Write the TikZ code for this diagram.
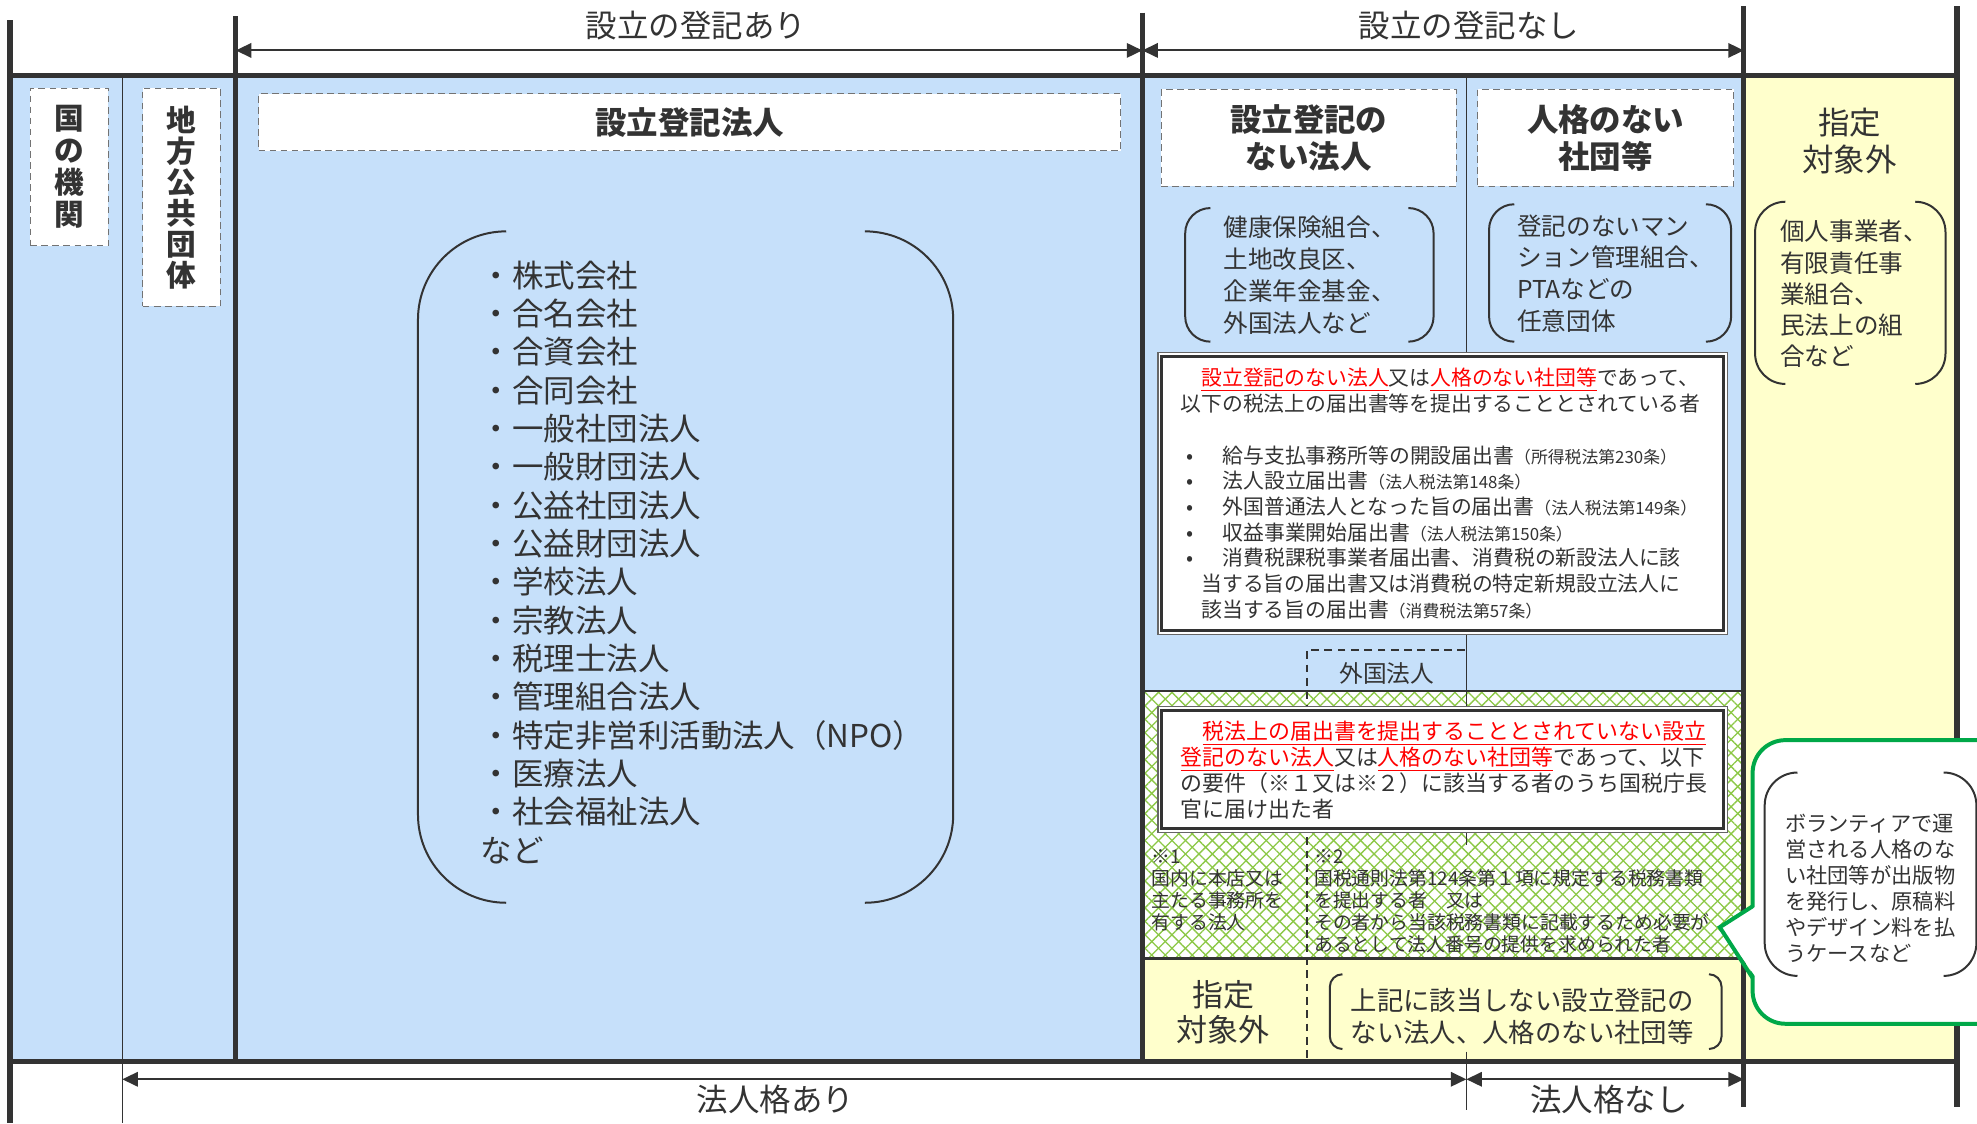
\documentclass[tikz,border=0pt]{standalone}
\usepackage{fontspec}
\setmainfont{Noto Sans CJK JP}
\usetikzlibrary{
    arrows.meta,
    patterns.meta
}
\definecolor{ink}{RGB}{51,51,51}
\definecolor{skyfill}{RGB}{198,224,250}
\definecolor{creamfill}{RGB}{255,255,204}
\definecolor{hatchgreen}{RGB}{140,200,70}
\definecolor{calloutgreen}{RGB}{0,168,72}
\definecolor{notered}{RGB}{255,0,0}
\newcommand{\fsz}[2]{\fontsize{#1}{#2}\selectfont}
\newcommand{\redul}[1]{\textcolor{notered}{\underline{#1}}}
\newcommand{\lawref}[1]{{\fsz{7.6pt}{8pt}#1}}
\newcommand{\bul}{\makebox[8.6pt][c]{•}\hspace*{10.4pt}}
\newcommand{\parens}[5]{%
    \draw[parenline, rounded corners=#5*0.02cm] ({#1+#5},#2) -- (#1,#2) -- (#1,#4) -- ({#1+#5},#4);
    \draw[parenline, rounded corners=#5*0.02cm] ({#3-#5},#2) -- (#3,#2) -- (#3,#4) -- ({#3-#5},#4);}

\begin{document}
\begin{tikzpicture}[x=0.02cm, y=-0.02cm,
    framerule/.style={draw=ink, line width=2.4pt},
    divider/.style={draw=ink, line width=0.6pt},
    spanarrow/.style={draw=ink, line width=0.9pt, {Triangle[length=7pt,width=6.5pt]}-{Triangle[length=7pt,width=6.5pt]}},
    namebox/.style={draw=black!55, densely dashed, line width=0.4pt, fill=white, text=ink, inner sep=0pt},
    reqbox/.style={draw=black!60, line width=0.5pt, fill=white, inner sep=0pt},
    parenline/.style={draw=ink, line width=0.9pt},
    dashline/.style={draw=ink, line width=0.7pt, dash pattern=on 3.5pt off 2.5pt},
    txt/.style={text=ink, inner sep=0pt, align=left},
    calloutbox/.style={draw=calloutgreen, line width=1.8pt, fill=white, rounded corners=0.52cm, inner sep=0pt}]

    \useasboundingbox (0,0) rectangle (1568,891);
    \clip (0,0) rectangle (1568,891);

    \fill[skyfill] (8,60) rectangle (906,842);
    \fill[skyfill] (906,60) rectangle (1383,548);
    \fill[white] (906,548) rectangle (1383,760);
    \fill[pattern={Lines[angle=45,distance=4.3pt,line width=0.6pt]}, pattern color=hatchgreen] (906,548) rectangle (1383,760);
    \fill[pattern={Lines[angle=-45,distance=4.3pt,line width=0.6pt]}, pattern color=hatchgreen] (906,548) rectangle (1383,760);
    \fill[creamfill] (906,760) rectangle (1383,842);
    \fill[creamfill] (1383,60) rectangle (1552,842);

    \draw[divider] (97,60) -- (97,891);
    \draw[divider, line width=0.8pt] (906,548) -- (1383,548);
    \draw[divider, line width=1.4pt] (906,760) -- (1383,760);
    \draw[divider] (1163,60) -- (1163,280);
    \draw[divider] (1163,502) -- (1163,563);
    \draw[divider] (1163,660) -- (1163,670);
    \draw[divider] (1163,834) -- (1163,880);
    \draw[framerule] (8,16) -- (8,891);
    \draw[framerule] (187,13) -- (187,842);
    \draw[framerule] (906,10) -- (906,842);
    \draw[framerule] (1383,5) -- (1383,878);
    \draw[framerule] (1552,5) -- (1552,878);
    \draw[framerule] (8,60) -- (1552,60);
    \draw[framerule] (8,842) -- (1552,842);

    \coordinate (regL) at (187,40);
    \coordinate (regM) at (906,40);
    \coordinate (regR) at (1383,40);
    \coordinate (corpL) at (97,856);
    \coordinate (corpM) at (1163,856);
    \coordinate (corpR) at (1383,856);
    \draw[spanarrow] (regL) -- (regM);
    \draw[spanarrow] (regM) -- (regR);
    \draw[spanarrow] (corpL) -- (corpM);
    \draw[spanarrow] (corpM) -- (corpR);

    \node[txt, font=\fsz{14.2pt}{17pt}] (regyes) at (552,20) {設立の登記あり};
    \node[txt, font=\fsz{14.2pt}{17pt}] (regno) at (1165,20) {設立の登記なし};
    \node[txt, font=\fsz{14.2pt}{17pt}] (corpyes) at (615,872) {法人格あり};
    \node[txt, font=\fsz{14.2pt}{17pt}] (corpno) at (1276,872) {法人格なし};

    \node[namebox, minimum width=1.24cm, minimum height=2.5cm, align=center, font=\bfseries\fsz{13.4pt}{14.5pt}] (state) at (55,132.5) {国\\の\\機\\関};
    \node[namebox, minimum width=1.23cm, minimum height=3.46cm, align=center, font=\bfseries\fsz{13.4pt}{14pt}] (local) at (144,156.5) {地\\方\\公\\共\\団\\体};
    \node[namebox, minimum width=13.68cm, minimum height=0.9cm, font=\bfseries\fsz{14.2pt}{17pt}] (reghead) at (547,97) {設立登記法人};
    \node[namebox, minimum width=4.68cm, minimum height=1.54cm, align=center, font=\bfseries\fsz{14.2pt}{17pt}] (unreghead) at (1038,109.4) {設立登記の\\ない法人};
    \node[namebox, minimum width=4.06cm, minimum height=1.54cm, align=center, font=\bfseries\fsz{14.2pt}{17pt}] (assochead) at (1273.5,109.4) {人格のない\\社団等};
    \node[txt, align=center, font=\fsz{14.2pt}{17pt}] (outtop) at (1467,112) {指定\\対象外};

    \parens{331.5}{183.5}{756}{716}{70}
    \node[txt, anchor=west, font=\fsz{14.2pt}{17.3pt}] (corplist) at (381,446) {・株式会社\\・合名会社\\・合資会社\\・合同会社\\・一般社団法人\\・一般財団法人\\・公益社団法人\\・公益財団法人\\・学校法人\\・宗教法人\\・税理士法人\\・管理組合法人\\・特定非営利活動法人（NPO）\\・医療法人\\・社会福祉法人\\など};

    \parens{940}{165}{1137}{271}{20}
    \node[txt, anchor=west, font=\fsz{11.1pt}{14.4pt}] (unreglist) at (970,218) {健康保険組合、\\土地改良区、\\企業年金基金、\\外国法人など};
    \parens{1181}{162}{1373}{271}{20}
    \node[txt, anchor=west, font=\fsz{11.1pt}{14.4pt}] (assoclist) at (1203,217) {登記のないマン\\ション管理組合、\\PTAなどの\\任意団体};
    \parens{1392}{160}{1543}{304.5}{24}
    \node[txt, anchor=west, font=\fsz{11.1pt}{14.1pt}] (outlist) at (1411.6,233.2) {個人事業者、\\有限責任事\\業組合、\\民法上の組\\合など};

    \coordinate (frgA) at (1162,515.5);
    \coordinate (frgB) at (1036.6,515.5);
    \coordinate (frgC) at (1036.6,842);
    \draw[dashline] (frgA) -- (frgB) -- (frgC);
    \node[txt, font=\fsz{10.7pt}{12pt}] (foreign) at (1100,534) {外国法人};

    \node[reqbox, minimum width=9.04cm, minimum height=4.48cm] (filed) at (1144.35,391.45) {};
    \draw[ink, line width=1.3pt] ([shift={(3.5,3.5)}]filed.north west) rectangle ([shift={(-3.5,-3.5)}]filed.south east);
    \node[txt, anchor=west, font=\fsz{9.4pt}{11.6pt}] (filedtext) at (936,391.5) {\hspace*{9.4pt}\redul{設立登記のない法人}又は\redul{人格のない社団等}であって、\\以下の税法上の届出書等を提出することとされている者\\[11.6pt]\bul 給与支払事務所等の開設届出書\lawref{（所得税法第230条）}\\\bul 法人設立届出書\lawref{（法人税法第148条）}\\\bul 外国普通法人となった旨の届出書\lawref{（法人税法第149条）}\\\bul 収益事業開始届出書\lawref{（法人税法第150条）}\\\bul 消費税課税事業者届出書、消費税の新設法人に該\\\hspace*{9.4pt}当する旨の届出書又は消費税の特定新規設立法人に\\\hspace*{9.4pt}該当する旨の届出書\lawref{（消費税法第57条）}};

    \node[reqbox, minimum width=9.04cm, minimum height=2.0cm] (named) at (1144.35,610.35) {};
    \draw[ink, line width=1.3pt] ([shift={(3.5,3.5)}]named.north west) rectangle ([shift={(-3.5,-3.5)}]named.south east);
    \node[txt, anchor=west, font=\fsz{9.9pt}{11.7pt}] (namedtext) at (936,610.75) {\hspace*{9.9pt}\redul{税法上の届出書を提出することとされていない設立}\\\redul{登記のない法人}又は\redul{人格のない社団等}であって、以下\\の要件（※１又は※２）に該当する者のうち国税庁長\\官に届け出た者};

    \node[txt, anchor=west, font=\fsz{8.5pt}{9.9pt}] (note1) at (913,706.3) {※1\\国内に本店又は\\主たる事務所を\\有する法人};
    \node[txt, anchor=west, font=\fsz{8.5pt}{9.9pt}] (note2) at (1042,715.1) {※2\\国税通則法第124条第１項に規定する税務書類\\を提出する者　又は\\その者から当該税務書類に記載するため必要が\\あるとして法人番号の提供を求められた者};

    \node[txt, align=center, font=\fsz{14pt}{16pt}] (outbot) at (970,803) {指定\\対象外};
    \parens{1054.7}{772.7}{1365.4}{832}{10}
    \node[txt, anchor=west, font=\fsz{11.9pt}{14.5pt}] (restlist) at (1071,806) {上記に該当しない設立登記の\\ない法人、人格のない社団等};

    \node[calloutbox, minimum width=4.2cm, minimum height=4.5cm] (volunteer) at (1495,699.5) {};
    \coordinate (tipA) at (1390,718.8);
    \coordinate (tip) at (1364,735.4);
    \coordinate (tipB) at (1390,775.6);
    \fill[white] ([shift={(3,0)}]tipA) -- (tip) -- ([shift={(3,0)}]tipB) -- cycle;
    \draw[draw=calloutgreen, line width=1.8pt] (tipA) -- (tip) -- (tipB);
    \parens{1399.6}{612.7}{1567.5}{774}{26}
    \node[txt, anchor=west, font=\fsz{9.6pt}{11.8pt}] (voltext) at (1415.5,704.5) {ボランティアで運\\営される人格のな\\い社団等が出版物\\を発行し、原稿料\\やデザイン料を払\\うケースなど};
\end{tikzpicture}
\end{document}
